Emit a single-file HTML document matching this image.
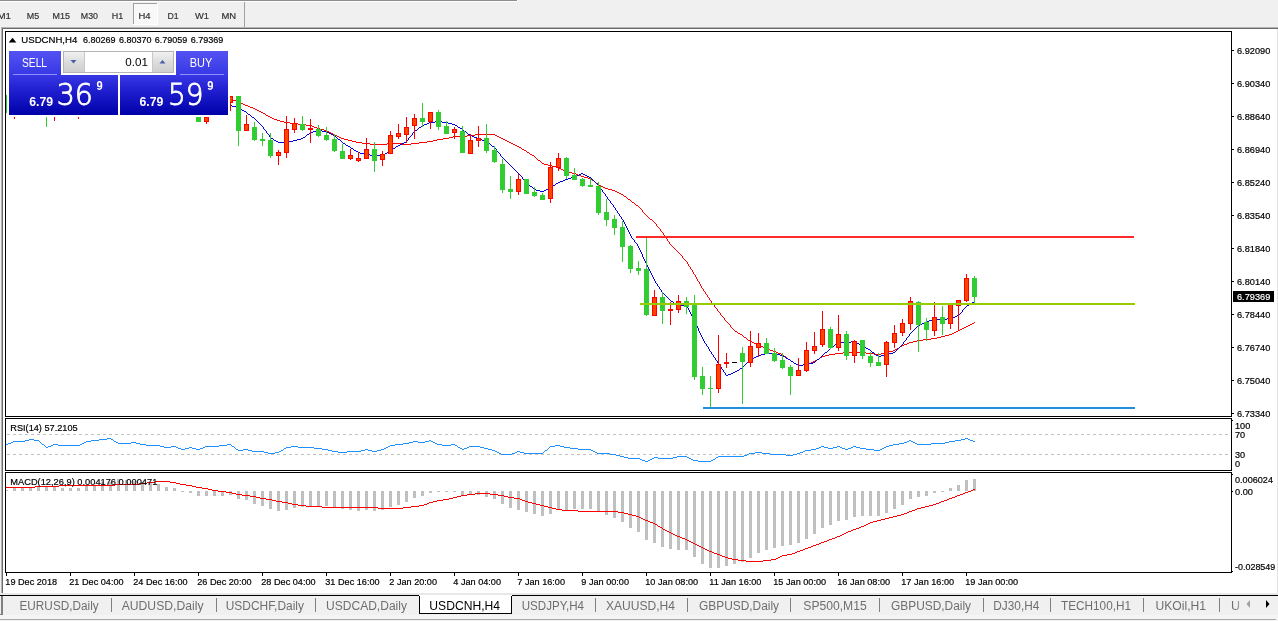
<!DOCTYPE html>
<html><head><meta charset="utf-8"><title>USDCNH,H4</title>
<style>html,body{margin:0;padding:0;background:#f0f0f0;overflow:hidden}svg{display:block;font-family:"Liberation Sans",sans-serif}</style>
</head><body>
<svg width="1278" height="621" viewBox="0 0 1278 621">
<rect x="0" y="0" width="1278" height="621" fill="#f0f0f0"/>
<rect x="0" y="0" width="517" height="1" fill="#8c8c8c"/>
<rect x="0" y="1" width="518" height="1" fill="#ffffff"/>
<rect x="517" y="0" width="1" height="2" fill="#ffffff"/>
<rect x="133" y="3" width="25" height="22" fill="#f8f8f8"/>
<rect x="133" y="3" width="25" height="1" fill="#a0a0a0"/>
<rect x="133" y="3" width="1" height="22" fill="#a0a0a0"/>
<rect x="133" y="24" width="25" height="1" fill="#ffffff"/>
<rect x="157" y="3" width="1" height="22" fill="#ffffff"/>
<text x="-2.5" y="19" font-size="9.6" fill="#333" textLength="13.5" lengthAdjust="spacingAndGlyphs" stroke="#333" stroke-width="0.2">M1</text>
<text x="26.8" y="19" font-size="9.6" fill="#333" textLength="12.4" lengthAdjust="spacingAndGlyphs" stroke="#333" stroke-width="0.2">M5</text>
<text x="52.6" y="19" font-size="9.6" fill="#333" textLength="17.4" lengthAdjust="spacingAndGlyphs" stroke="#333" stroke-width="0.2">M15</text>
<text x="80.8" y="19" font-size="9.6" fill="#333" textLength="17.2" lengthAdjust="spacingAndGlyphs" stroke="#333" stroke-width="0.2">M30</text>
<text x="111.7" y="19" font-size="9.6" fill="#333" textLength="11.5" lengthAdjust="spacingAndGlyphs" stroke="#333" stroke-width="0.2">H1</text>
<text x="138.5" y="19" font-size="9.6" fill="#333" textLength="12.1" lengthAdjust="spacingAndGlyphs" stroke="#333" stroke-width="0.2">H4</text>
<text x="167.5" y="19" font-size="9.6" fill="#333" textLength="11.2" lengthAdjust="spacingAndGlyphs" stroke="#333" stroke-width="0.2">D1</text>
<text x="195" y="19" font-size="9.6" fill="#333" textLength="14" lengthAdjust="spacingAndGlyphs" stroke="#333" stroke-width="0.2">W1</text>
<text x="221.5" y="19" font-size="9.6" fill="#333" textLength="14.7" lengthAdjust="spacingAndGlyphs" stroke="#333" stroke-width="0.2">MN</text>
<rect x="244" y="2" width="1" height="25" fill="#a0a0a0"/>
<rect x="1" y="27" width="1277" height="1" fill="#b4b4b4"/>
<rect x="1" y="28" width="1277" height="1" fill="#696969"/>
<rect x="1" y="27" width="1" height="566" fill="#b4b4b4"/>
<rect x="2" y="28" width="1" height="565" fill="#696969"/>
<rect x="3" y="29" width="1274" height="564" fill="#ffffff"/>
<rect x="1277" y="29" width="1" height="564" fill="#e3e3e3"/>
<rect x="0" y="593" width="1278" height="2" fill="#e8e8e8"/>
<rect x="5" y="31" width="1227" height="1" fill="#000000"/>
<rect x="5" y="416" width="1227" height="1" fill="#000000"/>
<rect x="5" y="31" width="1" height="386" fill="#000000"/>
<rect x="1231" y="31" width="1" height="386" fill="#000000"/>
<rect x="5" y="418" width="1227" height="1" fill="#000000"/>
<rect x="5" y="470" width="1227" height="1" fill="#000000"/>
<rect x="5" y="418" width="1" height="53" fill="#000000"/>
<rect x="1231" y="418" width="1" height="53" fill="#000000"/>
<rect x="5" y="472" width="1227" height="1" fill="#000000"/>
<rect x="5" y="572" width="1227" height="1" fill="#000000"/>
<rect x="5" y="472" width="1" height="101" fill="#000000"/>
<rect x="1231" y="472" width="1" height="101" fill="#000000"/>
<path d="M344 139h4v1h-4zM437 139h6v1h-6zM503 139h2v1h-2zM356 142h6v1h-6zM419 142h8v1h-8zM509 142h2v1h-2zM931 338h6v1h-6zM335 135h2v1h-2zM467 135h8v1h-8zM495 135h2v1h-2zM576 174h2v1h-2zM781 354h2v1h-2zM829 354h6v1h-6zM874 354h7v1h-7zM954 332h2v1h-2zM768 349h2v1h-2zM895 349h2v1h-2zM232 100h4v1h-4zM266 115h2v1h-2zM923 339h8v1h-8zM605 188h3v1h-3zM348 140h4v1h-4zM433 140h4v1h-4zM505 140h2v1h-2zM548 165h4v1h-4zM248 106h2v1h-2zM770 350h3v1h-3zM893 350h2v1h-2zM519 147h2v1h-2zM601 186h2v1h-2zM280 121h4v1h-4zM362 143h8v1h-8zM387 143h15v1h-15zM411 143h8v1h-8zM511 143h2v1h-2zM773 351h3v1h-3zM889 351h4v1h-4zM584 177h4v1h-4zM624 196h2v1h-2zM352 141h4v1h-4zM427 141h6v1h-6zM507 141h2v1h-2zM542 163h2v1h-2zM778 353h3v1h-3zM835 353h8v1h-8zM866 353h8v1h-8zM881 353h4v1h-4zM333 134h2v1h-2zM475 134h20v1h-20zM243 104h2v1h-2zM608 189h4v1h-4zM515 145h2v1h-2zM794 363h2v1h-2zM808 363h3v1h-3zM757 344h2v1h-2zM904 344h3v1h-3zM306 125h6v1h-6zM544 164h4v1h-4zM538 160h2v1h-2zM578 175h3v1h-3zM776 352h2v1h-2zM843 352h23v1h-23zM885 352h4v1h-4zM621 194h2v1h-2zM612 190h3v1h-3zM277 120h3v1h-3zM261 112h2v1h-2zM740 334h2v1h-2zM949 334h3v1h-3zM581 176h3v1h-3zM239 102h2v1h-2zM255 109h2v1h-2zM738 333h2v1h-2zM952 333h2v1h-2zM370 144h17v1h-17zM402 144h9v1h-9zM513 144h2v1h-2zM337 136h2v1h-2zM453 136h14v1h-14zM497 136h2v1h-2zM617 192h2v1h-2zM636 205h2v1h-2zM257 110h2v1h-2zM748 340h2v1h-2zM917 340h6v1h-6zM341 138h3v1h-3zM443 138h6v1h-6zM501 138h2v1h-2zM259 111h2v1h-2zM339 137h2v1h-2zM449 137h4v1h-4zM499 137h2v1h-2zM250 107h3v1h-3zM970 324h2v1h-2zM796 364h2v1h-2zM803 364h5v1h-5zM945 335h4v1h-4zM284 122h6v1h-6zM761 346h2v1h-2zM900 346h2v1h-2zM314 127h3v1h-3zM253 108h2v1h-2zM966 326h2v1h-2zM290 123h8v1h-8zM552 166h4v1h-4zM245 105h3v1h-3zM765 348h3v1h-3zM897 348h2v1h-2zM298 124h8v1h-8zM588 178h3v1h-3zM825 355h4v1h-4zM556 167h3v1h-3zM798 365h5v1h-5zM811 362h2v1h-2zM962 328h2v1h-2zM958 330h2v1h-2zM317 128h3v1h-3zM568 172h4v1h-4zM530 154h2v1h-2zM650 219h2v1h-2zM941 336h4v1h-4zM815 360h2v1h-2zM754 343h3v1h-3zM907 343h2v1h-2zM532 155h2v1h-2zM563 170h2v1h-2zM329 132h2v1h-2zM565 171h3v1h-3zM559 168h2v1h-2zM331 133h2v1h-2zM763 347h2v1h-2zM324 130h3v1h-3zM968 325h2v1h-2zM744 337h2v1h-2zM937 337h4v1h-4zM788 359h2v1h-2zM817 359h2v1h-2zM327 131h2v1h-2zM759 345h2v1h-2zM902 345h2v1h-2zM750 341h2v1h-2zM913 341h4v1h-4zM972 323h2v1h-2zM268 116h2v1h-2zM230 99h2v1h-2zM752 342h2v1h-2zM909 342h4v1h-4zM603 187h2v1h-2zM596 183h2v1h-2zM524 150h2v1h-2zM572 173h4v1h-4zM599 185h2v1h-2zM241 103h2v1h-2zM272 118h2v1h-2zM964 327h2v1h-2zM615 191h2v1h-2zM522 149h2v1h-2zM274 119h3v1h-3zM236 101h3v1h-3zM517 146h2v1h-2zM619 193h2v1h-2zM784 356h2v1h-2zM822 356h3v1h-3zM270 117h2v1h-2zM263 113h2v1h-2zM960 329h2v1h-2zM312 126h2v1h-2zM592 180h2v1h-2zM735 331h2v1h-2zM956 331h2v1h-2zM632 202h2v1h-2zM561 169h2v1h-2zM820 357h2v1h-2zM791 361h2v1h-2zM813 361h2v1h-2zM320 129h4v1h-4zM628 199h2v1h-2zM527 152h2v1h-2zM714 305h1v2h-1zM630 200h1v1h-1zM647 216h1v1h-1zM746 338h1v1h-1zM728 323h1v1h-1zM657 226h1v1h-1zM641 209h1v1h-1zM666 238h1v1h-1zM631 201h1v1h-1zM747 339h1v1h-1zM642 210h1v2h-1zM529 153h1v1h-1zM690 267h1v2h-1zM535 157h1v1h-1zM638 206h1v1h-1zM729 324h1v1h-1zM658 227h1v1h-1zM687 262h1v2h-1zM695 275h1v2h-1zM667 239h1v2h-1zM730 325h1v2h-1zM594 181h1v1h-1zM724 318h1v2h-1zM688 264h1v2h-1zM700 284h1v2h-1zM974 322h1v1h-1zM682 256h1v2h-1zM703 289h1v2h-1zM691 269h1v1h-1zM726 321h1v1h-1zM711 301h1v2h-1zM720 313h1v2h-1zM639 207h1v1h-1zM595 182h1v1h-1zM696 277h1v2h-1zM721 315h1v1h-1zM673 247h1v1h-1zM660 229h1v2h-1zM709 298h1v2h-1zM727 322h1v1h-1zM712 303h1v1h-1zM737 332h1v1h-1zM669 242h1v2h-1zM656 224h1v2h-1zM684 259h1v1h-1zM713 304h1v1h-1zM722 316h1v1h-1zM634 203h1v1h-1zM665 236h1v2h-1zM701 286h1v2h-1zM674 248h1v1h-1zM697 279h1v2h-1zM670 244h1v1h-1zM702 288h1v1h-1zM705 292h1v2h-1zM671 245h1v1h-1zM686 261h1v1h-1zM521 148h1v1h-1zM694 274h1v1h-1zM540 161h1v1h-1zM786 357h1v1h-1zM698 281h1v1h-1zM659 228h1v1h-1zM653 221h1v1h-1zM623 195h1v1h-1zM699 282h1v2h-1zM707 295h1v2h-1zM787 358h1v1h-1zM626 197h1v1h-1zM742 335h1v1h-1zM719 312h1v1h-1zM654 222h1v1h-1zM683 258h1v1h-1zM663 233h1v2h-1zM692 270h1v2h-1zM672 246h1v1h-1zM678 252h1v1h-1zM627 198h1v1h-1zM743 336h1v1h-1zM648 217h1v1h-1zM644 213h1v1h-1zM685 260h1v1h-1zM526 151h1v1h-1zM679 253h1v1h-1zM819 358h1v1h-1zM723 317h1v1h-1zM635 204h1v1h-1zM717 309h1v2h-1zM591 179h1v1h-1zM645 214h1v1h-1zM652 220h1v1h-1zM675 249h1v1h-1zM899 347h1v1h-1zM693 272h1v2h-1zM689 266h1v1h-1zM732 328h1v1h-1zM718 311h1v1h-1zM598 184h1v1h-1zM676 250h1v1h-1zM661 231h1v1h-1zM706 294h1v1h-1zM733 329h1v1h-1zM541 162h1v1h-1zM646 215h1v1h-1zM793 362h1v1h-1zM710 300h1v1h-1zM265 114h1v1h-1zM677 251h1v1h-1zM655 223h1v1h-1zM664 235h1v1h-1zM643 212h1v1h-1zM734 330h1v1h-1zM715 307h1v1h-1zM668 241h1v1h-1zM536 158h1v1h-1zM716 308h1v1h-1zM649 218h1v1h-1zM725 320h1v1h-1zM704 291h1v1h-1zM731 327h1v1h-1zM680 254h1v1h-1zM790 360h1v1h-1zM537 159h1v1h-1zM783 355h1v1h-1zM708 297h1v1h-1zM640 208h1v1h-1zM681 255h1v1h-1zM662 232h1v1h-1zM534 156h1v1h-1z" fill="#ff0000" shape-rendering="crispEdges"/>
<path d="M313 131h4v1h-4zM322 131h5v1h-5zM464 131h2v1h-2zM422 125h2v1h-2zM455 125h2v1h-2zM678 305h9v1h-9zM967 305h2v1h-2zM364 154h6v1h-6zM383 154h2v1h-2zM851 341h4v1h-4zM756 356h2v1h-2zM783 356h2v1h-2zM878 356h3v1h-3zM825 352h2v1h-2zM872 352h2v1h-2zM893 352h2v1h-2zM750 359h2v1h-2zM788 359h2v1h-2zM817 359h2v1h-2zM317 130h5v1h-5zM415 130h2v1h-2zM737 370h2v1h-2zM297 139h4v1h-4zM338 139h2v1h-2zM480 139h2v1h-2zM370 155h13v1h-13zM674 303h2v1h-2zM831 347h2v1h-2zM952 317h3v1h-3zM798 365h5v1h-5zM560 181h3v1h-3zM761 354h4v1h-4zM776 354h4v1h-4zM885 354h4v1h-4zM303 137h2v1h-2zM474 137h3v1h-3zM424 124h3v1h-3zM452 124h3v1h-3zM558 182h2v1h-2zM868 349h2v1h-2zM553 185h2v1h-2zM794 363h2v1h-2zM809 363h4v1h-4zM472 136h2v1h-2zM536 190h4v1h-4zM544 190h2v1h-2zM346 145h2v1h-2zM398 145h2v1h-2zM924 322h2v1h-2zM796 364h2v1h-2zM803 364h6v1h-6zM307 134h2v1h-2zM331 134h2v1h-2zM468 134h2v1h-2zM863 346h2v1h-2zM758 355h3v1h-3zM780 355h3v1h-3zM876 355h2v1h-2zM881 355h4v1h-4zM360 153h4v1h-4zM385 153h2v1h-2zM728 374h3v1h-3zM920 324h2v1h-2zM752 358h2v1h-2zM786 358h2v1h-2zM929 320h4v1h-4zM947 318h5v1h-5zM271 138h2v1h-2zM301 138h2v1h-2zM477 138h3v1h-3zM356 151h2v1h-2zM388 151h2v1h-2zM568 178h3v1h-3zM278 142h11v1h-11zM404 142h2v1h-2zM310 132h3v1h-3zM327 132h2v1h-2zM579 174h2v1h-2zM583 174h2v1h-2zM419 127h2v1h-2zM458 127h2v1h-2zM866 348h2v1h-2zM835 344h2v1h-2zM859 344h2v1h-2zM429 122h6v1h-6zM442 122h6v1h-6zM573 176h3v1h-3zM587 176h2v1h-2zM274 140h2v1h-2zM293 140h4v1h-4zM482 140h3v1h-3zM857 343h2v1h-2zM358 152h2v1h-2zM548 188h2v1h-2zM534 189h2v1h-2zM546 189h2v1h-2zM276 141h2v1h-2zM289 141h4v1h-4zM485 141h2v1h-2zM933 319h14v1h-14zM838 342h13v1h-13zM855 342h2v1h-2zM333 135h2v1h-2zM470 135h2v1h-2zM351 148h2v1h-2zM393 148h2v1h-2zM765 353h11v1h-11zM889 353h4v1h-4zM354 150h2v1h-2zM348 146h2v1h-2zM396 146h2v1h-2zM492 146h2v1h-2zM435 121h7v1h-7zM563 180h2v1h-2zM427 123h2v1h-2zM448 123h4v1h-4zM676 304h2v1h-2zM969 304h2v1h-2zM329 133h2v1h-2zM735 371h2v1h-2zM926 321h3v1h-3zM813 362h2v1h-2zM540 191h4v1h-4zM230 105h2v1h-2zM861 345h2v1h-2zM955 316h2v1h-2zM754 357h2v1h-2zM400 144h2v1h-2zM530 186h2v1h-2zM551 186h2v1h-2zM571 177h2v1h-2zM589 177h2v1h-2zM581 173h2v1h-2zM922 323h2v1h-2zM242 110h2v1h-2zM740 368h2v1h-2zM232 106h4v1h-4zM731 373h2v1h-2zM565 179h3v1h-3zM918 325h2v1h-2zM576 175h3v1h-3zM585 175h2v1h-2zM343 143h2v1h-2zM402 143h2v1h-2zM488 143h2v1h-2zM671 301h2v1h-2zM957 315h2v1h-2zM791 361h2v1h-2zM556 183h2v1h-2zM236 107h3v1h-3zM252 117h2v1h-2zM460 128h2v1h-2zM733 372h2v1h-2zM248 114h2v1h-2zM391 149h2v1h-2zM972 302h2v1h-2zM244 111h2v1h-2zM239 108h2v1h-2zM726 375h2v1h-2zM255 119h1v1h-1zM871 351h1v1h-1zM624 222h1v2h-1zM704 341h1v2h-1zM715 358h1v2h-1zM639 248h1v2h-1zM617 211h1v2h-1zM687 306h1v2h-1zM660 289h1v1h-1zM620 216h1v1h-1zM971 303h1v1h-1zM708 347h1v2h-1zM716 360h1v1h-1zM649 269h1v2h-1zM719 364h1v2h-1zM621 217h1v2h-1zM701 335h1v2h-1zM262 126h1v1h-1zM650 271h1v2h-1zM594 181h1v1h-1zM829 349h1v1h-1zM595 182h1v1h-1zM646 263h1v2h-1zM463 130h1v1h-1zM410 136h1v1h-1zM745 364h1v1h-1zM689 310h1v2h-1zM833 346h1v1h-1zM897 349h1v1h-1zM638 246h1v2h-1zM822 355h1v1h-1zM641 252h1v2h-1zM602 190h1v2h-1zM634 240h1v2h-1zM910 333h1v1h-1zM700 333h1v2h-1zM606 196h1v1h-1zM711 352h1v2h-1zM627 228h1v2h-1zM337 138h1v1h-1zM648 267h1v2h-1zM266 131h1v2h-1zM250 115h1v1h-1zM251 116h1v1h-1zM500 154h1v2h-1zM837 343h1v1h-1zM501 156h1v1h-1zM605 194h1v2h-1zM533 188h1v1h-1zM387 152h1v1h-1zM273 139h1v1h-1zM959 314h1v1h-1zM917 326h1v1h-1zM710 351h1v1h-1zM507 162h1v1h-1zM659 287h1v2h-1zM749 360h1v1h-1zM508 163h1v1h-1zM652 275h1v2h-1zM663 293h1v1h-1zM623 220h1v2h-1zM265 130h1v1h-1zM645 261h1v2h-1zM413 132h1v1h-1zM793 362h1v1h-1zM515 170h1v1h-1zM499 153h1v1h-1zM670 300h1v1h-1zM962 310h1v2h-1zM417 129h1v1h-1zM604 193h1v1h-1zM522 177h1v2h-1zM901 345h1v1h-1zM904 341h1v1h-1zM608 199h1v1h-1zM714 357h1v1h-1zM246 112h1v1h-1zM637 244h1v2h-1zM717 361h1v2h-1zM306 135h1v1h-1zM264 129h1v1h-1zM622 219h1v1h-1zM718 363h1v1h-1zM528 184h1v1h-1zM651 273h1v2h-1zM824 353h1v1h-1zM699 331h1v2h-1zM790 360h1v1h-1zM529 185h1v1h-1zM513 168h1v1h-1zM828 350h1v1h-1zM912 331h1v1h-1zM644 259h1v2h-1zM514 169h1v1h-1zM744 365h1v1h-1zM696 324h1v2h-1zM487 142h1v1h-1zM907 337h1v1h-1zM688 308h1v2h-1zM257 121h1v1h-1zM521 176h1v1h-1zM974 301h1v1h-1zM713 355h1v2h-1zM721 367h1v2h-1zM966 306h1v1h-1zM698 328h1v3h-1zM412 133h1v2h-1zM647 265h1v2h-1zM747 362h1v1h-1zM896 350h1v1h-1zM268 134h1v1h-1zM407 140h1v1h-1zM596 183h1v1h-1zM815 361h1v1h-1zM785 357h1v1h-1zM502 157h1v1h-1zM597 184h1v1h-1zM607 197h1v2h-1zM611 203h1v1h-1zM720 366h1v1h-1zM263 127h1v2h-1zM665 295h1v1h-1zM267 133h1v1h-1zM903 342h1v2h-1zM961 312h1v1h-1zM695 322h1v2h-1zM395 147h1v1h-1zM742 367h1v1h-1zM819 358h1v1h-1zM523 179h1v1h-1zM610 201h1v2h-1zM524 180h1v1h-1zM457 126h1v1h-1zM509 164h1v1h-1zM964 308h1v1h-1zM643 257h1v2h-1zM494 147h1v1h-1zM694 320h1v2h-1zM516 171h1v1h-1zM599 186h1v2h-1zM353 149h1v1h-1zM550 187h1v1h-1zM632 238h1v1h-1zM914 329h1v1h-1zM723 370h1v2h-1zM664 294h1v1h-1zM746 363h1v1h-1zM335 136h1v1h-1zM697 326h1v2h-1zM906 338h1v2h-1zM269 135h1v2h-1zM909 334h1v2h-1zM270 137h1v1h-1zM642 254h1v3h-1zM421 126h1v1h-1zM830 348h1v1h-1zM609 200h1v1h-1zM247 113h1v1h-1zM258 122h1v1h-1zM411 135h1v1h-1zM628 230h1v2h-1zM657 284h1v2h-1zM898 348h1v1h-1zM259 123h1v1h-1zM613 205h1v2h-1zM591 178h1v1h-1zM722 369h1v1h-1zM345 144h1v1h-1zM653 277h1v2h-1zM406 141h1v1h-1zM821 356h1v1h-1zM598 185h1v1h-1zM631 236h1v2h-1zM693 318h1v2h-1zM690 312h1v2h-1zM504 159h1v1h-1zM725 373h1v2h-1zM466 132h1v1h-1zM874 353h1v1h-1zM467 133h1v1h-1zM963 309h1v1h-1zM875 354h1v1h-1zM409 137h1v1h-1zM511 166h1v1h-1zM503 158h1v1h-1zM390 150h1v1h-1zM916 327h1v1h-1zM667 297h1v1h-1zM340 140h1v1h-1zM630 234h1v2h-1zM341 141h1v1h-1zM612 204h1v1h-1zM615 208h1v2h-1zM703 339h1v2h-1zM724 372h1v1h-1zM525 181h1v1h-1zM656 283h1v1h-1zM616 210h1v1h-1zM905 340h1v1h-1zM666 296h1v1h-1zM526 182h1v1h-1zM496 149h1v2h-1zM900 346h1v1h-1zM692 316h1v2h-1zM462 129h1v1h-1zM870 350h1v1h-1zM254 118h1v1h-1zM748 361h1v1h-1zM913 330h1v1h-1zM629 232h1v2h-1zM655 281h1v2h-1zM518 173h1v1h-1zM601 189h1v1h-1zM619 214h1v2h-1zM260 124h1v1h-1zM707 346h1v1h-1zM908 336h1v1h-1zM510 165h1v1h-1zM261 125h1v1h-1zM336 137h1v1h-1zM495 148h1v1h-1zM517 172h1v1h-1zM600 188h1v1h-1zM691 314h1v2h-1zM640 250h1v2h-1zM305 136h1v1h-1zM532 187h1v1h-1zM633 239h1v1h-1zM408 138h1v2h-1zM654 279h1v2h-1zM816 360h1v1h-1zM673 302h1v1h-1zM626 226h1v2h-1zM706 344h1v2h-1zM895 351h1v1h-1zM506 161h1v1h-1zM658 286h1v1h-1zM865 347h1v1h-1zM820 357h1v1h-1zM739 369h1v1h-1zM911 332h1v1h-1zM592 179h1v1h-1zM743 366h1v1h-1zM593 180h1v1h-1zM350 147h1v1h-1zM309 133h1v1h-1zM834 345h1v1h-1zM823 354h1v1h-1zM603 192h1v1h-1zM709 349h1v2h-1zM490 144h1v1h-1zM614 207h1v1h-1zM827 351h1v1h-1zM661 290h1v2h-1zM702 337h1v2h-1zM625 224h1v2h-1zM491 145h1v1h-1zM705 343h1v1h-1zM662 292h1v1h-1zM618 213h1v1h-1zM555 184h1v1h-1zM899 347h1v1h-1zM241 109h1v1h-1zM498 152h1v1h-1zM669 299h1v1h-1zM965 307h1v1h-1zM414 131h1v1h-1zM505 160h1v1h-1zM960 313h1v1h-1zM636 243h1v1h-1zM256 120h1v1h-1zM520 175h1v1h-1zM527 183h1v1h-1zM712 354h1v1h-1zM902 344h1v1h-1zM512 167h1v1h-1zM915 328h1v1h-1zM497 151h1v1h-1zM668 298h1v1h-1zM342 142h1v1h-1zM519 174h1v1h-1zM418 128h1v1h-1zM635 242h1v1h-1z" fill="#0000e0" shape-rendering="crispEdges"/>
<g id="chart" shape-rendering="crispEdges">
<rect x="6" y="95" width="1" height="18" fill="#32cd32"/>
<rect x="6" y="95" width="3" height="18" fill="#32cd32"/>
<rect x="14" y="117" width="1" height="2" fill="#ff0000"/>
<rect x="46" y="117" width="1" height="10" fill="#32cd32"/>
<rect x="54" y="117" width="1" height="4" fill="#ff0000"/>
<rect x="78" y="117" width="1" height="2" fill="#ff0000"/>
<rect x="198" y="117" width="1" height="5" fill="#32cd32"/>
<rect x="196" y="117" width="5" height="5" fill="#32cd32"/>
<rect x="206" y="117" width="1" height="7" fill="#ff0000"/>
<rect x="204" y="117" width="5" height="5" fill="#ff0000"/>
<rect x="205" y="118" width="3" height="3" fill="#ff4500"/>
<rect x="230" y="96" width="1" height="15" fill="#ff0000"/>
<rect x="228" y="96" width="5" height="7" fill="#ff0000"/>
<rect x="229" y="97" width="3" height="5" fill="#ff4500"/>
<rect x="238" y="96" width="1" height="50" fill="#32cd32"/>
<rect x="236" y="96" width="5" height="35" fill="#32cd32"/>
<rect x="246" y="115" width="1" height="16" fill="#ff0000"/>
<rect x="244" y="124" width="5" height="7" fill="#ff0000"/>
<rect x="245" y="125" width="3" height="5" fill="#ff4500"/>
<rect x="254" y="122" width="1" height="19" fill="#32cd32"/>
<rect x="252" y="127" width="5" height="13" fill="#32cd32"/>
<rect x="262" y="133" width="1" height="13" fill="#32cd32"/>
<rect x="260" y="139" width="5" height="2" fill="#32cd32"/>
<rect x="270" y="133" width="1" height="25" fill="#32cd32"/>
<rect x="268" y="140" width="5" height="16" fill="#32cd32"/>
<rect x="278" y="150" width="1" height="15" fill="#ff0000"/>
<rect x="276" y="152" width="5" height="4" fill="#ff0000"/>
<rect x="277" y="153" width="3" height="2" fill="#ff4500"/>
<rect x="286" y="116" width="1" height="42" fill="#ff0000"/>
<rect x="284" y="129" width="5" height="24" fill="#ff0000"/>
<rect x="285" y="130" width="3" height="22" fill="#ff4500"/>
<rect x="294" y="118" width="1" height="15" fill="#ff0000"/>
<rect x="292" y="123" width="5" height="7" fill="#ff0000"/>
<rect x="293" y="124" width="3" height="5" fill="#ff4500"/>
<rect x="302" y="116" width="1" height="15" fill="#32cd32"/>
<rect x="300" y="124" width="5" height="6" fill="#32cd32"/>
<rect x="310" y="119" width="1" height="24" fill="#ff0000"/>
<rect x="308" y="128" width="5" height="2" fill="#ff0000"/>
<rect x="318" y="125" width="1" height="12" fill="#32cd32"/>
<rect x="316" y="129" width="5" height="7" fill="#32cd32"/>
<rect x="326" y="127" width="1" height="14" fill="#32cd32"/>
<rect x="324" y="135" width="5" height="5" fill="#32cd32"/>
<rect x="334" y="134" width="1" height="18" fill="#32cd32"/>
<rect x="332" y="139" width="5" height="12" fill="#32cd32"/>
<rect x="342" y="144" width="1" height="15" fill="#32cd32"/>
<rect x="340" y="151" width="5" height="8" fill="#32cd32"/>
<rect x="350" y="149" width="1" height="11" fill="#ff0000"/>
<rect x="348" y="155" width="5" height="4" fill="#ff0000"/>
<rect x="349" y="156" width="3" height="2" fill="#ff4500"/>
<rect x="358" y="152" width="1" height="10" fill="#ff0000"/>
<rect x="356" y="158" width="5" height="3" fill="#ff0000"/>
<rect x="357" y="159" width="3" height="1" fill="#ff4500"/>
<rect x="366" y="138" width="1" height="21" fill="#ff0000"/>
<rect x="364" y="149" width="5" height="10" fill="#ff0000"/>
<rect x="365" y="150" width="3" height="8" fill="#ff4500"/>
<rect x="374" y="142" width="1" height="30" fill="#32cd32"/>
<rect x="372" y="149" width="5" height="12" fill="#32cd32"/>
<rect x="382" y="151" width="1" height="15" fill="#ff0000"/>
<rect x="380" y="154" width="5" height="6" fill="#ff0000"/>
<rect x="381" y="155" width="3" height="4" fill="#ff4500"/>
<rect x="390" y="131" width="1" height="23" fill="#ff0000"/>
<rect x="388" y="135" width="5" height="19" fill="#ff0000"/>
<rect x="389" y="136" width="3" height="17" fill="#ff4500"/>
<rect x="398" y="124" width="1" height="15" fill="#ff0000"/>
<rect x="396" y="133" width="5" height="4" fill="#ff0000"/>
<rect x="397" y="134" width="3" height="2" fill="#ff4500"/>
<rect x="406" y="117" width="1" height="26" fill="#ff0000"/>
<rect x="404" y="127" width="5" height="8" fill="#ff0000"/>
<rect x="405" y="128" width="3" height="6" fill="#ff4500"/>
<rect x="414" y="114" width="1" height="25" fill="#ff0000"/>
<rect x="412" y="118" width="5" height="8" fill="#ff0000"/>
<rect x="413" y="119" width="3" height="6" fill="#ff4500"/>
<rect x="422" y="103" width="1" height="24" fill="#32cd32"/>
<rect x="420" y="118" width="5" height="4" fill="#32cd32"/>
<rect x="430" y="112" width="1" height="17" fill="#ff0000"/>
<rect x="428" y="112" width="5" height="10" fill="#ff0000"/>
<rect x="429" y="113" width="3" height="8" fill="#ff4500"/>
<rect x="438" y="110" width="1" height="20" fill="#32cd32"/>
<rect x="436" y="112" width="5" height="15" fill="#32cd32"/>
<rect x="446" y="121" width="1" height="13" fill="#32cd32"/>
<rect x="444" y="126" width="5" height="8" fill="#32cd32"/>
<rect x="454" y="127" width="1" height="12" fill="#ff0000"/>
<rect x="452" y="129" width="5" height="4" fill="#ff0000"/>
<rect x="453" y="130" width="3" height="2" fill="#ff4500"/>
<rect x="462" y="126" width="1" height="27" fill="#32cd32"/>
<rect x="460" y="131" width="5" height="22" fill="#32cd32"/>
<rect x="470" y="134" width="1" height="20" fill="#ff0000"/>
<rect x="468" y="140" width="5" height="14" fill="#ff0000"/>
<rect x="469" y="141" width="3" height="12" fill="#ff4500"/>
<rect x="478" y="126" width="1" height="21" fill="#ff0000"/>
<rect x="476" y="138" width="5" height="3" fill="#ff0000"/>
<rect x="477" y="139" width="3" height="1" fill="#ff4500"/>
<rect x="486" y="124" width="1" height="29" fill="#32cd32"/>
<rect x="484" y="138" width="5" height="13" fill="#32cd32"/>
<rect x="494" y="146" width="1" height="17" fill="#32cd32"/>
<rect x="492" y="150" width="5" height="12" fill="#32cd32"/>
<rect x="502" y="159" width="1" height="34" fill="#32cd32"/>
<rect x="500" y="164" width="5" height="26" fill="#32cd32"/>
<rect x="510" y="176" width="1" height="23" fill="#32cd32"/>
<rect x="508" y="189" width="5" height="3" fill="#32cd32"/>
<rect x="518" y="174" width="1" height="21" fill="#ff0000"/>
<rect x="516" y="179" width="5" height="13" fill="#ff0000"/>
<rect x="517" y="180" width="3" height="11" fill="#ff4500"/>
<rect x="526" y="179" width="1" height="15" fill="#32cd32"/>
<rect x="524" y="179" width="5" height="15" fill="#32cd32"/>
<rect x="534" y="187" width="1" height="10" fill="#32cd32"/>
<rect x="532" y="192" width="5" height="4" fill="#32cd32"/>
<rect x="542" y="193" width="1" height="7" fill="#32cd32"/>
<rect x="540" y="195" width="5" height="5" fill="#32cd32"/>
<rect x="550" y="162" width="1" height="41" fill="#ff0000"/>
<rect x="548" y="167" width="5" height="32" fill="#ff0000"/>
<rect x="549" y="168" width="3" height="30" fill="#ff4500"/>
<rect x="558" y="153" width="1" height="18" fill="#ff0000"/>
<rect x="556" y="158" width="5" height="10" fill="#ff0000"/>
<rect x="557" y="159" width="3" height="8" fill="#ff4500"/>
<rect x="566" y="157" width="1" height="22" fill="#32cd32"/>
<rect x="564" y="158" width="5" height="18" fill="#32cd32"/>
<rect x="574" y="168" width="1" height="12" fill="#32cd32"/>
<rect x="572" y="175" width="5" height="5" fill="#32cd32"/>
<rect x="582" y="178" width="1" height="9" fill="#32cd32"/>
<rect x="580" y="179" width="5" height="7" fill="#32cd32"/>
<rect x="590" y="178" width="1" height="9" fill="#32cd32"/>
<rect x="588" y="185" width="5" height="2" fill="#32cd32"/>
<rect x="598" y="182" width="1" height="33" fill="#32cd32"/>
<rect x="596" y="186" width="5" height="27" fill="#32cd32"/>
<rect x="606" y="199" width="1" height="27" fill="#32cd32"/>
<rect x="604" y="212" width="5" height="8" fill="#32cd32"/>
<rect x="614" y="215" width="1" height="20" fill="#32cd32"/>
<rect x="612" y="219" width="5" height="9" fill="#32cd32"/>
<rect x="622" y="221" width="1" height="41" fill="#32cd32"/>
<rect x="620" y="227" width="5" height="20" fill="#32cd32"/>
<rect x="630" y="245" width="1" height="28" fill="#32cd32"/>
<rect x="628" y="246" width="5" height="23" fill="#32cd32"/>
<rect x="638" y="261" width="1" height="14" fill="#32cd32"/>
<rect x="636" y="268" width="5" height="3" fill="#32cd32"/>
<rect x="646" y="238" width="1" height="78" fill="#32cd32"/>
<rect x="644" y="269" width="5" height="46" fill="#32cd32"/>
<rect x="654" y="290" width="1" height="26" fill="#ff0000"/>
<rect x="652" y="297" width="5" height="19" fill="#ff0000"/>
<rect x="653" y="298" width="3" height="17" fill="#ff4500"/>
<rect x="662" y="292" width="1" height="32" fill="#32cd32"/>
<rect x="660" y="297" width="5" height="14" fill="#32cd32"/>
<rect x="670" y="302" width="1" height="23" fill="#ff0000"/>
<rect x="668" y="309" width="5" height="2" fill="#ff0000"/>
<rect x="678" y="295" width="1" height="18" fill="#ff0000"/>
<rect x="676" y="301" width="5" height="9" fill="#ff0000"/>
<rect x="677" y="302" width="3" height="7" fill="#ff4500"/>
<rect x="686" y="297" width="1" height="17" fill="#32cd32"/>
<rect x="684" y="301" width="5" height="6" fill="#32cd32"/>
<rect x="694" y="295" width="1" height="85" fill="#32cd32"/>
<rect x="692" y="303" width="5" height="74" fill="#32cd32"/>
<rect x="702" y="367" width="1" height="28" fill="#32cd32"/>
<rect x="700" y="376" width="5" height="13" fill="#32cd32"/>
<rect x="710" y="376" width="1" height="31" fill="#32cd32"/>
<rect x="708" y="388" width="5" height="1" fill="#32cd32"/>
<rect x="718" y="335" width="1" height="58" fill="#ff0000"/>
<rect x="716" y="364" width="5" height="25" fill="#ff0000"/>
<rect x="717" y="365" width="3" height="23" fill="#ff4500"/>
<rect x="726" y="353" width="1" height="15" fill="#ff0000"/>
<rect x="724" y="362" width="5" height="2" fill="#ff0000"/>
<rect x="734" y="362" width="1" height="1" fill="#000000"/>
<rect x="732" y="362" width="5" height="1" fill="#000000"/>
<rect x="742" y="347" width="1" height="57" fill="#32cd32"/>
<rect x="740" y="353" width="5" height="9" fill="#32cd32"/>
<rect x="750" y="331" width="1" height="36" fill="#ff0000"/>
<rect x="748" y="346" width="5" height="17" fill="#ff0000"/>
<rect x="749" y="347" width="3" height="15" fill="#ff4500"/>
<rect x="758" y="333" width="1" height="24" fill="#ff0000"/>
<rect x="756" y="343" width="5" height="5" fill="#ff0000"/>
<rect x="757" y="344" width="3" height="3" fill="#ff4500"/>
<rect x="766" y="338" width="1" height="16" fill="#32cd32"/>
<rect x="764" y="343" width="5" height="11" fill="#32cd32"/>
<rect x="774" y="348" width="1" height="14" fill="#32cd32"/>
<rect x="772" y="353" width="5" height="8" fill="#32cd32"/>
<rect x="782" y="353" width="1" height="16" fill="#32cd32"/>
<rect x="780" y="360" width="5" height="8" fill="#32cd32"/>
<rect x="790" y="365" width="1" height="30" fill="#32cd32"/>
<rect x="788" y="367" width="5" height="9" fill="#32cd32"/>
<rect x="798" y="358" width="1" height="18" fill="#ff0000"/>
<rect x="796" y="370" width="5" height="6" fill="#ff0000"/>
<rect x="797" y="371" width="3" height="4" fill="#ff4500"/>
<rect x="806" y="342" width="1" height="30" fill="#ff0000"/>
<rect x="804" y="350" width="5" height="21" fill="#ff0000"/>
<rect x="805" y="351" width="3" height="19" fill="#ff4500"/>
<rect x="814" y="332" width="1" height="22" fill="#ff0000"/>
<rect x="812" y="346" width="5" height="5" fill="#ff0000"/>
<rect x="813" y="347" width="3" height="3" fill="#ff4500"/>
<rect x="822" y="311" width="1" height="36" fill="#ff0000"/>
<rect x="820" y="329" width="5" height="16" fill="#ff0000"/>
<rect x="821" y="330" width="3" height="14" fill="#ff4500"/>
<rect x="830" y="327" width="1" height="22" fill="#32cd32"/>
<rect x="828" y="329" width="5" height="19" fill="#32cd32"/>
<rect x="838" y="315" width="1" height="36" fill="#ff0000"/>
<rect x="836" y="334" width="5" height="14" fill="#ff0000"/>
<rect x="837" y="335" width="3" height="12" fill="#ff4500"/>
<rect x="846" y="331" width="1" height="29" fill="#32cd32"/>
<rect x="844" y="334" width="5" height="22" fill="#32cd32"/>
<rect x="854" y="340" width="1" height="23" fill="#ff0000"/>
<rect x="852" y="341" width="5" height="15" fill="#ff0000"/>
<rect x="853" y="342" width="3" height="13" fill="#ff4500"/>
<rect x="862" y="340" width="1" height="19" fill="#32cd32"/>
<rect x="860" y="340" width="5" height="16" fill="#32cd32"/>
<rect x="870" y="352" width="1" height="15" fill="#32cd32"/>
<rect x="868" y="356" width="5" height="7" fill="#32cd32"/>
<rect x="878" y="353" width="1" height="13" fill="#32cd32"/>
<rect x="876" y="362" width="5" height="4" fill="#32cd32"/>
<rect x="886" y="341" width="1" height="36" fill="#ff0000"/>
<rect x="884" y="342" width="5" height="23" fill="#ff0000"/>
<rect x="885" y="343" width="3" height="21" fill="#ff4500"/>
<rect x="894" y="325" width="1" height="23" fill="#ff0000"/>
<rect x="892" y="333" width="5" height="10" fill="#ff0000"/>
<rect x="893" y="334" width="3" height="8" fill="#ff4500"/>
<rect x="902" y="319" width="1" height="17" fill="#ff0000"/>
<rect x="900" y="323" width="5" height="10" fill="#ff0000"/>
<rect x="901" y="324" width="3" height="8" fill="#ff4500"/>
<rect x="910" y="297" width="1" height="33" fill="#ff0000"/>
<rect x="908" y="301" width="5" height="23" fill="#ff0000"/>
<rect x="909" y="302" width="3" height="21" fill="#ff4500"/>
<rect x="918" y="301" width="1" height="51" fill="#32cd32"/>
<rect x="916" y="302" width="5" height="23" fill="#32cd32"/>
<rect x="926" y="318" width="1" height="23" fill="#32cd32"/>
<rect x="924" y="322" width="5" height="8" fill="#32cd32"/>
<rect x="934" y="302" width="1" height="34" fill="#ff0000"/>
<rect x="932" y="317" width="5" height="14" fill="#ff0000"/>
<rect x="933" y="318" width="3" height="12" fill="#ff4500"/>
<rect x="942" y="306" width="1" height="29" fill="#32cd32"/>
<rect x="940" y="317" width="5" height="7" fill="#32cd32"/>
<rect x="950" y="303" width="1" height="26" fill="#ff0000"/>
<rect x="948" y="303" width="5" height="21" fill="#ff0000"/>
<rect x="949" y="304" width="3" height="19" fill="#ff4500"/>
<rect x="958" y="300" width="1" height="30" fill="#ff0000"/>
<rect x="956" y="300" width="5" height="6" fill="#ff0000"/>
<rect x="957" y="301" width="3" height="4" fill="#ff4500"/>
<rect x="966" y="274" width="1" height="28" fill="#ff0000"/>
<rect x="964" y="278" width="5" height="23" fill="#ff0000"/>
<rect x="965" y="279" width="3" height="21" fill="#ff4500"/>
<rect x="974" y="276" width="1" height="27" fill="#32cd32"/>
<rect x="972" y="278" width="5" height="19" fill="#32cd32"/>
<rect x="636" y="236" width="498" height="2" fill="#ff2a2a"/>
<rect x="640" y="303" width="495" height="2" fill="#99cc00"/>
<rect x="703" y="407" width="432" height="2" fill="#1e8fd8"/>
</g>
<rect x="1232" y="50" width="2" height="1" fill="#000000"/>
<text x="1237" y="53.7" font-size="9.6" fill="#000" textLength="33.3" lengthAdjust="spacingAndGlyphs" stroke="#000" stroke-width="0.2">6.92090</text>
<rect x="1232" y="83" width="2" height="1" fill="#000000"/>
<text x="1237" y="86.7" font-size="9.6" fill="#000" textLength="33.3" lengthAdjust="spacingAndGlyphs" stroke="#000" stroke-width="0.2">6.90340</text>
<rect x="1232" y="116" width="2" height="1" fill="#000000"/>
<text x="1237" y="119.7" font-size="9.6" fill="#000" textLength="33.3" lengthAdjust="spacingAndGlyphs" stroke="#000" stroke-width="0.2">6.88640</text>
<rect x="1232" y="149" width="2" height="1" fill="#000000"/>
<text x="1237" y="152.7" font-size="9.6" fill="#000" textLength="33.3" lengthAdjust="spacingAndGlyphs" stroke="#000" stroke-width="0.2">6.86940</text>
<rect x="1232" y="182" width="2" height="1" fill="#000000"/>
<text x="1237" y="185.7" font-size="9.6" fill="#000" textLength="33.3" lengthAdjust="spacingAndGlyphs" stroke="#000" stroke-width="0.2">6.85240</text>
<rect x="1232" y="215" width="2" height="1" fill="#000000"/>
<text x="1237" y="218.7" font-size="9.6" fill="#000" textLength="33.3" lengthAdjust="spacingAndGlyphs" stroke="#000" stroke-width="0.2">6.83540</text>
<rect x="1232" y="248" width="2" height="1" fill="#000000"/>
<text x="1237" y="251.7" font-size="9.6" fill="#000" textLength="33.3" lengthAdjust="spacingAndGlyphs" stroke="#000" stroke-width="0.2">6.81840</text>
<rect x="1232" y="281" width="2" height="1" fill="#000000"/>
<text x="1237" y="284.7" font-size="9.6" fill="#000" textLength="33.3" lengthAdjust="spacingAndGlyphs" stroke="#000" stroke-width="0.2">6.80140</text>
<rect x="1232" y="314" width="2" height="1" fill="#000000"/>
<text x="1237" y="317.7" font-size="9.6" fill="#000" textLength="33.3" lengthAdjust="spacingAndGlyphs" stroke="#000" stroke-width="0.2">6.78440</text>
<rect x="1232" y="347" width="2" height="1" fill="#000000"/>
<text x="1237" y="350.7" font-size="9.6" fill="#000" textLength="33.3" lengthAdjust="spacingAndGlyphs" stroke="#000" stroke-width="0.2">6.76740</text>
<rect x="1232" y="380" width="2" height="1" fill="#000000"/>
<text x="1237" y="383.7" font-size="9.6" fill="#000" textLength="33.3" lengthAdjust="spacingAndGlyphs" stroke="#000" stroke-width="0.2">6.75040</text>
<rect x="1232" y="413" width="2" height="1" fill="#000000"/>
<text x="1237" y="416.7" font-size="9.6" fill="#000" textLength="33.3" lengthAdjust="spacingAndGlyphs" stroke="#000" stroke-width="0.2">6.73340</text>
<rect x="1233" y="291" width="41" height="11" fill="#000000"/>
<text x="1237" y="300" font-size="9.6" fill="#fff" textLength="33.3" lengthAdjust="spacingAndGlyphs" stroke="#fff" stroke-width="0.2">6.79369</text>
<path d="M8.7 42.4 L16.3 42.4 L12.5 37.8 Z" fill="#000"/>
<text x="21.3" y="43" font-size="9.6" fill="#000" textLength="56" lengthAdjust="spacingAndGlyphs" stroke="#000" stroke-width="0.2">USDCNH,H4</text>
<text x="83.0" y="43" font-size="9.6" fill="#000" textLength="32.6" lengthAdjust="spacingAndGlyphs" stroke="#000" stroke-width="0.2">6.80269</text>
<text x="118.9" y="43" font-size="9.6" fill="#000" textLength="32.6" lengthAdjust="spacingAndGlyphs" stroke="#000" stroke-width="0.2">6.80370</text>
<text x="154.8" y="43" font-size="9.6" fill="#000" textLength="32.6" lengthAdjust="spacingAndGlyphs" stroke="#000" stroke-width="0.2">6.79059</text>
<text x="190.7" y="43" font-size="9.6" fill="#000" textLength="32.6" lengthAdjust="spacingAndGlyphs" stroke="#000" stroke-width="0.2">6.79369</text>
<defs><linearGradient id="gb" x1="0" y1="0" x2="0" y2="1"><stop offset="0" stop-color="#5252f2"/><stop offset="0.35" stop-color="#3a3ae6"/><stop offset="0.62" stop-color="#1f1fd0"/><stop offset="1" stop-color="#0000a8"/></linearGradient><linearGradient id="gs" x1="0" y1="0" x2="0" y2="1"><stop offset="0" stop-color="#f2f2f2"/><stop offset="0.5" stop-color="#dcdcdc"/><stop offset="1" stop-color="#cfcfcf"/></linearGradient></defs>
<rect x="7" y="49" width="223" height="68" fill="#ffffff"/>
<path d="M9 51H61V75H118V115H9Z" fill="url(#gb)"/>
<path d="M176 51H228V115H120V75H176Z" fill="url(#gb)"/>
<rect x="13" y="74" width="44" height="1" fill="#8f8ffa"/>
<rect x="180" y="74" width="44" height="1" fill="#8f8ffa"/>
<text x="34.5" y="67" font-size="12" fill="#fff" textLength="25" lengthAdjust="spacingAndGlyphs" text-anchor="middle">SELL</text>
<text x="201" y="67" font-size="12" fill="#fff" textLength="22.5" lengthAdjust="spacingAndGlyphs" text-anchor="middle">BUY</text>
<rect x="63" y="51" width="111" height="22" fill="#b4b4b4"/>
<rect x="64" y="52" width="109" height="20" fill="#ffffff"/>
<rect x="64" y="52" width="20" height="20" fill="url(#gs)"/>
<rect x="84" y="52" width="1" height="20" fill="#c8c8c8"/>
<rect x="153" y="52" width="20" height="20" fill="url(#gs)"/>
<rect x="152" y="52" width="1" height="20" fill="#c8c8c8"/>
<path d="M70.5 60 L76.5 60 L73.5 63.5 Z" fill="#4a5ea8"/>
<path d="M159.5 63.5 L165.5 63.5 L162.5 60 Z" fill="#4a5ea8"/>
<text x="148" y="66" font-size="11.5" fill="#000" textLength="22.7" lengthAdjust="spacingAndGlyphs" text-anchor="end">0.01</text>
<text x="29.2" y="106" font-size="12.8" fill="#fff" textLength="23.8" lengthAdjust="spacingAndGlyphs" font-weight="bold">6.79</text>
<text x="56.7" y="105.3" font-size="31" fill="#fff" textLength="36.3" lengthAdjust="spacingAndGlyphs" font-weight="200" font-family="DejaVu Sans" stroke="#fff" stroke-width="0.9">36</text>
<text x="96.4" y="90" font-size="12.8" fill="#fff" textLength="6.2" lengthAdjust="spacingAndGlyphs" font-weight="bold">9</text>
<text x="139.5" y="106" font-size="12.8" fill="#fff" textLength="23.8" lengthAdjust="spacingAndGlyphs" font-weight="bold">6.79</text>
<text x="168" y="105.3" font-size="31" fill="#fff" textLength="35.5" lengthAdjust="spacingAndGlyphs" font-weight="200" font-family="DejaVu Sans" stroke="#fff" stroke-width="0.9">59</text>
<text x="207.2" y="90" font-size="12.8" fill="#fff" textLength="6.2" lengthAdjust="spacingAndGlyphs" font-weight="bold">9</text>
<g shape-rendering="crispEdges">
<line x1="7" y1="434.5" x2="1231" y2="434.5" stroke="#c0c0c0" stroke-width="1" stroke-dasharray="3 3"/>
<line x1="7" y1="454.5" x2="1231" y2="454.5" stroke="#c0c0c0" stroke-width="1" stroke-dasharray="3 3"/>
</g>
<text x="10.3" y="431" font-size="9.6" fill="#000" textLength="67.3" lengthAdjust="spacingAndGlyphs" stroke="#000" stroke-width="0.2">RSI(14) 57.2105</text>
<text x="1235" y="428.8" font-size="9.6" fill="#000" textLength="15.2" lengthAdjust="spacingAndGlyphs" stroke="#000" stroke-width="0.2">100</text>
<text x="1235" y="438" font-size="9.6" fill="#000" textLength="10.2" lengthAdjust="spacingAndGlyphs" stroke="#000" stroke-width="0.2">70</text>
<text x="1235" y="457.5" font-size="9.6" fill="#000" textLength="10.2" lengthAdjust="spacingAndGlyphs" stroke="#000" stroke-width="0.2">30</text>
<text x="1235" y="466.5" font-size="9.6" fill="#000" textLength="5.1" lengthAdjust="spacingAndGlyphs" stroke="#000" stroke-width="0.2">0</text>
<path d="M178 448h3v1h-3zM185 448h4v1h-4zM192 448h4v1h-4zM200 448h3v1h-3zM284 448h2v1h-2zM314 448h8v1h-8zM384 448h2v1h-2zM460 448h2v1h-2zM464 448h3v1h-3zM484 448h4v1h-4zM570 448h8v1h-8zM816 448h3v1h-3zM828 448h5v1h-5zM842 448h3v1h-3zM848 448h3v1h-3zM860 448h6v1h-6zM882 448h2v1h-2zM624 457h4v1h-4zM654 457h4v1h-4zM673 457h4v1h-4zM687 457h2v1h-2zM716 457h2v1h-2zM51 445h2v1h-2zM58 445h22v1h-22zM146 445h14v1h-14zM219 445h8v1h-8zM390 445h5v1h-5zM442 445h9v1h-9zM455 445h2v1h-2zM555 445h5v1h-5zM889 445h4v1h-4zM46 447h2v1h-2zM164 447h7v1h-7zM176 447h2v1h-2zM189 447h3v1h-3zM203 447h2v1h-2zM286 447h5v1h-5zM298 447h16v1h-16zM386 447h2v1h-2zM458 447h2v1h-2zM467 447h2v1h-2zM480 447h4v1h-4zM564 447h6v1h-6zM819 447h2v1h-2zM824 447h4v1h-4zM833 447h4v1h-4zM840 447h2v1h-2zM851 447h2v1h-2zM856 447h4v1h-4zM884 447h2v1h-2zM252 451h12v1h-12zM279 451h2v1h-2zM332 451h6v1h-6zM347 451h14v1h-14zM372 451h5v1h-5zM495 451h2v1h-2zM517 451h3v1h-3zM593 451h2v1h-2zM803 451h2v1h-2zM13 441h12v1h-12zM86 441h5v1h-5zM114 441h2v1h-2zM413 441h5v1h-5zM425 441h4v1h-4zM431 441h2v1h-2zM907 441h2v1h-2zM911 441h2v1h-2zM949 441h6v1h-6zM973 441h2v1h-2zM268 453h7v1h-7zM499 453h2v1h-2zM512 453h3v1h-3zM524 453h19v1h-19zM597 453h13v1h-13zM749 453h6v1h-6zM762 453h8v1h-8zM797 453h3v1h-3zM6 444h2v1h-2zM42 444h2v1h-2zM53 444h5v1h-5zM80 444h2v1h-2zM140 444h6v1h-6zM227 444h4v1h-4zM395 444h8v1h-8zM437 444h5v1h-5zM451 444h4v1h-4zM893 444h6v1h-6zM917 444h14v1h-14zM620 456h4v1h-4zM677 456h10v1h-10zM718 456h26v1h-26zM11 442h2v1h-2zM84 442h2v1h-2zM116 442h2v1h-2zM131 442h5v1h-5zM409 442h4v1h-4zM418 442h7v1h-7zM433 442h2v1h-2zM904 442h3v1h-3zM913 442h2v1h-2zM945 442h4v1h-4zM628 458h12v1h-12zM652 458h2v1h-2zM658 458h15v1h-15zM689 458h2v1h-2zM645 461h3v1h-3zM698 461h13v1h-13zM264 452h4v1h-4zM275 452h4v1h-4zM338 452h9v1h-9zM497 452h2v1h-2zM515 452h2v1h-2zM520 452h4v1h-4zM595 452h2v1h-2zM755 452h7v1h-7zM800 452h3v1h-3zM48 446h3v1h-3zM160 446h4v1h-4zM171 446h5v1h-5zM205 446h14v1h-14zM232 446h2v1h-2zM291 446h7v1h-7zM388 446h2v1h-2zM469 446h11v1h-11zM550 446h5v1h-5zM560 446h4v1h-4zM821 446h3v1h-3zM837 446h3v1h-3zM853 446h3v1h-3zM886 446h3v1h-3zM25 440h4v1h-4zM34 440h5v1h-5zM91 440h8v1h-8zM429 440h2v1h-2zM909 440h2v1h-2zM955 440h6v1h-6zM970 440h3v1h-3zM238 450h5v1h-5zM248 450h4v1h-4zM281 450h2v1h-2zM328 450h4v1h-4zM361 450h4v1h-4zM368 450h4v1h-4zM377 450h4v1h-4zM492 450h3v1h-3zM545 450h2v1h-2zM591 450h2v1h-2zM805 450h6v1h-6zM874 450h6v1h-6zM501 454h11v1h-11zM610 454h6v1h-6zM747 454h2v1h-2zM770 454h16v1h-16zM793 454h4v1h-4zM181 449h4v1h-4zM196 449h4v1h-4zM236 449h2v1h-2zM243 449h5v1h-5zM322 449h6v1h-6zM365 449h3v1h-3zM381 449h3v1h-3zM462 449h2v1h-2zM488 449h4v1h-4zM578 449h13v1h-13zM811 449h5v1h-5zM845 449h3v1h-3zM866 449h8v1h-8zM880 449h2v1h-2zM640 459h2v1h-2zM650 459h2v1h-2zM691 459h2v1h-2zM713 459h2v1h-2zM8 443h3v1h-3zM82 443h2v1h-2zM118 443h13v1h-13zM136 443h4v1h-4zM403 443h6v1h-6zM435 443h2v1h-2zM899 443h5v1h-5zM915 443h2v1h-2zM931 443h14v1h-14zM29 439h5v1h-5zM99 439h8v1h-8zM111 439h2v1h-2zM961 439h4v1h-4zM968 439h2v1h-2zM642 460h3v1h-3zM648 460h2v1h-2zM693 460h5v1h-5zM711 460h2v1h-2zM616 455h4v1h-4zM744 455h3v1h-3zM786 455h7v1h-7zM107 438h4v1h-4zM965 438h3v1h-3zM544 451h1v1h-1zM234 447h1v1h-1zM549 447h1v1h-1zM40 442h1v1h-1zM231 445h1v1h-1zM235 448h1v1h-1zM548 448h1v1h-1zM113 440h1v1h-1zM547 449h1v1h-1zM543 452h1v1h-1zM39 441h1v1h-1zM457 446h1v1h-1zM45 446h1v1h-1zM41 443h1v1h-1zM283 449h1v1h-1zM44 445h1v1h-1zM715 458h1v1h-1z" fill="#1e90ff" shape-rendering="crispEdges"/>
<rect x="1232" y="420" width="1" height="1" fill="#000000"/>
<g shape-rendering="crispEdges">
<rect x="6" y="490" width="2" height="1" fill="#c0c0c0"/>
<rect x="13" y="487" width="3" height="4" fill="#c0c0c0"/>
<rect x="21" y="487" width="3" height="4" fill="#c0c0c0"/>
<rect x="29" y="487" width="3" height="4" fill="#c0c0c0"/>
<rect x="37" y="487" width="3" height="4" fill="#c0c0c0"/>
<rect x="45" y="487" width="3" height="4" fill="#c0c0c0"/>
<rect x="53" y="487" width="3" height="4" fill="#c0c0c0"/>
<rect x="61" y="488" width="3" height="3" fill="#c0c0c0"/>
<rect x="69" y="488" width="3" height="3" fill="#c0c0c0"/>
<rect x="77" y="488" width="3" height="3" fill="#c0c0c0"/>
<rect x="85" y="486" width="3" height="5" fill="#c0c0c0"/>
<rect x="93" y="485" width="3" height="6" fill="#c0c0c0"/>
<rect x="101" y="482" width="3" height="9" fill="#c0c0c0"/>
<rect x="109" y="482" width="3" height="9" fill="#c0c0c0"/>
<rect x="117" y="479" width="3" height="12" fill="#c0c0c0"/>
<rect x="125" y="480" width="3" height="11" fill="#c0c0c0"/>
<rect x="133" y="481" width="3" height="10" fill="#c0c0c0"/>
<rect x="141" y="482" width="3" height="9" fill="#c0c0c0"/>
<rect x="149" y="483" width="3" height="8" fill="#c0c0c0"/>
<rect x="157" y="484" width="3" height="7" fill="#c0c0c0"/>
<rect x="165" y="487" width="3" height="4" fill="#c0c0c0"/>
<rect x="173" y="488" width="3" height="3" fill="#c0c0c0"/>
<rect x="181" y="491" width="3" height="1" fill="#c0c0c0"/>
<rect x="189" y="491" width="3" height="2" fill="#c0c0c0"/>
<rect x="197" y="491" width="3" height="5" fill="#c0c0c0"/>
<rect x="205" y="491" width="3" height="5" fill="#c0c0c0"/>
<rect x="213" y="491" width="3" height="5" fill="#c0c0c0"/>
<rect x="221" y="491" width="3" height="5" fill="#c0c0c0"/>
<rect x="229" y="491" width="3" height="4" fill="#c0c0c0"/>
<rect x="237" y="491" width="3" height="8" fill="#c0c0c0"/>
<rect x="245" y="491" width="3" height="9" fill="#c0c0c0"/>
<rect x="253" y="491" width="3" height="13" fill="#c0c0c0"/>
<rect x="261" y="491" width="3" height="15" fill="#c0c0c0"/>
<rect x="269" y="491" width="3" height="18" fill="#c0c0c0"/>
<rect x="277" y="491" width="3" height="20" fill="#c0c0c0"/>
<rect x="285" y="491" width="3" height="19" fill="#c0c0c0"/>
<rect x="293" y="491" width="3" height="17" fill="#c0c0c0"/>
<rect x="301" y="491" width="3" height="16" fill="#c0c0c0"/>
<rect x="309" y="491" width="3" height="16" fill="#c0c0c0"/>
<rect x="317" y="491" width="3" height="16" fill="#c0c0c0"/>
<rect x="325" y="491" width="3" height="15" fill="#c0c0c0"/>
<rect x="333" y="491" width="3" height="17" fill="#c0c0c0"/>
<rect x="341" y="491" width="3" height="18" fill="#c0c0c0"/>
<rect x="349" y="491" width="3" height="19" fill="#c0c0c0"/>
<rect x="357" y="491" width="3" height="20" fill="#c0c0c0"/>
<rect x="365" y="491" width="3" height="19" fill="#c0c0c0"/>
<rect x="373" y="491" width="3" height="20" fill="#c0c0c0"/>
<rect x="381" y="491" width="3" height="19" fill="#c0c0c0"/>
<rect x="389" y="491" width="3" height="16" fill="#c0c0c0"/>
<rect x="397" y="491" width="3" height="14" fill="#c0c0c0"/>
<rect x="405" y="491" width="3" height="11" fill="#c0c0c0"/>
<rect x="413" y="491" width="3" height="7" fill="#c0c0c0"/>
<rect x="421" y="491" width="3" height="5" fill="#c0c0c0"/>
<rect x="429" y="491" width="3" height="2" fill="#c0c0c0"/>
<rect x="437" y="491" width="3" height="1" fill="#c0c0c0"/>
<rect x="445" y="491" width="3" height="1" fill="#c0c0c0"/>
<rect x="453" y="491" width="3" height="1" fill="#c0c0c0"/>
<rect x="461" y="491" width="3" height="5" fill="#c0c0c0"/>
<rect x="469" y="491" width="3" height="4" fill="#c0c0c0"/>
<rect x="477" y="491" width="3" height="4" fill="#c0c0c0"/>
<rect x="485" y="491" width="3" height="6" fill="#c0c0c0"/>
<rect x="493" y="491" width="3" height="8" fill="#c0c0c0"/>
<rect x="501" y="491" width="3" height="13" fill="#c0c0c0"/>
<rect x="509" y="491" width="3" height="17" fill="#c0c0c0"/>
<rect x="517" y="491" width="3" height="19" fill="#c0c0c0"/>
<rect x="525" y="491" width="3" height="21" fill="#c0c0c0"/>
<rect x="533" y="491" width="3" height="23" fill="#c0c0c0"/>
<rect x="541" y="491" width="3" height="25" fill="#c0c0c0"/>
<rect x="549" y="491" width="3" height="23" fill="#c0c0c0"/>
<rect x="557" y="491" width="3" height="19" fill="#c0c0c0"/>
<rect x="565" y="491" width="3" height="19" fill="#c0c0c0"/>
<rect x="573" y="491" width="3" height="18" fill="#c0c0c0"/>
<rect x="581" y="491" width="3" height="18" fill="#c0c0c0"/>
<rect x="589" y="491" width="3" height="18" fill="#c0c0c0"/>
<rect x="597" y="491" width="3" height="20" fill="#c0c0c0"/>
<rect x="605" y="491" width="3" height="24" fill="#c0c0c0"/>
<rect x="613" y="491" width="3" height="27" fill="#c0c0c0"/>
<rect x="621" y="491" width="3" height="31" fill="#c0c0c0"/>
<rect x="629" y="491" width="3" height="37" fill="#c0c0c0"/>
<rect x="637" y="491" width="3" height="41" fill="#c0c0c0"/>
<rect x="645" y="491" width="3" height="49" fill="#c0c0c0"/>
<rect x="653" y="491" width="3" height="52" fill="#c0c0c0"/>
<rect x="661" y="491" width="3" height="56" fill="#c0c0c0"/>
<rect x="669" y="491" width="3" height="58" fill="#c0c0c0"/>
<rect x="677" y="491" width="3" height="59" fill="#c0c0c0"/>
<rect x="685" y="491" width="3" height="59" fill="#c0c0c0"/>
<rect x="693" y="491" width="3" height="66" fill="#c0c0c0"/>
<rect x="701" y="491" width="3" height="73" fill="#c0c0c0"/>
<rect x="709" y="491" width="3" height="77" fill="#c0c0c0"/>
<rect x="717" y="491" width="3" height="77" fill="#c0c0c0"/>
<rect x="725" y="491" width="3" height="75" fill="#c0c0c0"/>
<rect x="733" y="491" width="3" height="73" fill="#c0c0c0"/>
<rect x="741" y="491" width="3" height="71" fill="#c0c0c0"/>
<rect x="749" y="491" width="3" height="67" fill="#c0c0c0"/>
<rect x="757" y="491" width="3" height="62" fill="#c0c0c0"/>
<rect x="765" y="491" width="3" height="59" fill="#c0c0c0"/>
<rect x="773" y="491" width="3" height="57" fill="#c0c0c0"/>
<rect x="781" y="491" width="3" height="55" fill="#c0c0c0"/>
<rect x="789" y="491" width="3" height="54" fill="#c0c0c0"/>
<rect x="797" y="491" width="3" height="52" fill="#c0c0c0"/>
<rect x="805" y="491" width="3" height="48" fill="#c0c0c0"/>
<rect x="813" y="491" width="3" height="43" fill="#c0c0c0"/>
<rect x="821" y="491" width="3" height="37" fill="#c0c0c0"/>
<rect x="829" y="491" width="3" height="34" fill="#c0c0c0"/>
<rect x="837" y="491" width="3" height="30" fill="#c0c0c0"/>
<rect x="845" y="491" width="3" height="29" fill="#c0c0c0"/>
<rect x="853" y="491" width="3" height="26" fill="#c0c0c0"/>
<rect x="861" y="491" width="3" height="25" fill="#c0c0c0"/>
<rect x="869" y="491" width="3" height="25" fill="#c0c0c0"/>
<rect x="877" y="491" width="3" height="25" fill="#c0c0c0"/>
<rect x="885" y="491" width="3" height="22" fill="#c0c0c0"/>
<rect x="893" y="491" width="3" height="18" fill="#c0c0c0"/>
<rect x="901" y="491" width="3" height="14" fill="#c0c0c0"/>
<rect x="909" y="491" width="3" height="8" fill="#c0c0c0"/>
<rect x="917" y="491" width="3" height="6" fill="#c0c0c0"/>
<rect x="925" y="491" width="3" height="5" fill="#c0c0c0"/>
<rect x="933" y="491" width="3" height="2" fill="#c0c0c0"/>
<rect x="941" y="491" width="3" height="1" fill="#c0c0c0"/>
<rect x="949" y="488" width="3" height="3" fill="#c0c0c0"/>
<rect x="957" y="485" width="3" height="6" fill="#c0c0c0"/>
<rect x="965" y="480" width="3" height="11" fill="#c0c0c0"/>
<rect x="973" y="479" width="3" height="12" fill="#c0c0c0"/>
</g>
<path d="M709 551h3v1h-3zM797 551h3v1h-3zM266 499h6v1h-6zM443 499h6v1h-6zM520 499h2v1h-2zM947 499h2v1h-2zM306 506h16v1h-16zM411 506h8v1h-8zM544 506h4v1h-4zM925 506h4v1h-4zM714 553h3v1h-3zM792 553h3v1h-3zM292 504h6v1h-6zM424 504h3v1h-3zM536 504h4v1h-4zM933 504h3v1h-3zM35 486h24v1h-24zM192 486h4v1h-4zM705 549h2v1h-2zM803 549h2v1h-2zM697 545h2v1h-2zM813 545h3v1h-3zM242 495h8v1h-8zM461 495h6v1h-6zM498 495h6v1h-6zM957 495h3v1h-3zM155 481h15v1h-15zM693 543h2v1h-2zM819 543h2v1h-2zM232 493h4v1h-4zM475 493h15v1h-15zM963 493h2v1h-2zM115 484h24v1h-24zM180 484h6v1h-6zM6 487h29v1h-29zM196 487h6v1h-6zM288 503h4v1h-4zM427 503h2v1h-2zM532 503h4v1h-4zM936 503h3v1h-3zM139 483h8v1h-8zM176 483h4v1h-4zM675 535h2v1h-2zM840 535h2v1h-2zM667 531h2v1h-2zM848 531h3v1h-3zM298 505h8v1h-8zM419 505h5v1h-5zM540 505h4v1h-4zM929 505h4v1h-4zM738 560h8v1h-8zM763 560h8v1h-8zM378 508h25v1h-25zM552 508h4v1h-4zM917 508h4v1h-4zM618 512h6v1h-6zM907 512h2v1h-2zM578 511h40v1h-40zM909 511h3v1h-3zM645 520h3v1h-3zM877 520h4v1h-4zM639 517h2v1h-2zM889 517h4v1h-4zM322 507h56v1h-56zM403 507h8v1h-8zM548 507h4v1h-4zM921 507h4v1h-4zM272 500h4v1h-4zM437 500h6v1h-6zM522 500h3v1h-3zM944 500h3v1h-3zM236 494h6v1h-6zM467 494h8v1h-8zM490 494h8v1h-8zM960 494h3v1h-3zM250 496h6v1h-6zM457 496h4v1h-4zM504 496h4v1h-4zM955 496h2v1h-2zM212 490h6v1h-6zM971 490h2v1h-2zM562 510h16v1h-16zM912 510h3v1h-3zM701 547h2v1h-2zM808 547h3v1h-3zM722 556h3v1h-3zM780 556h2v1h-2zM628 514h4v1h-4zM901 514h3v1h-3zM218 491h8v1h-8zM968 491h3v1h-3zM660 527h2v1h-2zM859 527h2v1h-2zM653 523h2v1h-2zM868 523h2v1h-2zM685 539h2v1h-2zM829 539h3v1h-3zM256 497h4v1h-4zM453 497h4v1h-4zM508 497h6v1h-6zM952 497h3v1h-3zM276 501h6v1h-6zM433 501h4v1h-4zM525 501h3v1h-3zM941 501h3v1h-3zM658 526h2v1h-2zM861 526h3v1h-3zM59 485h56v1h-56zM186 485h6v1h-6zM725 557h3v1h-3zM778 557h2v1h-2zM282 502h6v1h-6zM429 502h4v1h-4zM528 502h4v1h-4zM939 502h2v1h-2zM226 492h6v1h-6zM965 492h3v1h-3zM728 558h4v1h-4zM776 558h2v1h-2zM864 525h2v1h-2zM147 482h8v1h-8zM170 482h6v1h-6zM648 521h2v1h-2zM873 521h4v1h-4zM720 555h2v1h-2zM782 555h5v1h-5zM717 554h3v1h-3zM787 554h5v1h-5zM650 522h3v1h-3zM870 522h3v1h-3zM746 561h17v1h-17zM641 518h2v1h-2zM885 518h4v1h-4zM665 530h2v1h-2zM851 530h2v1h-2zM260 498h6v1h-6zM449 498h4v1h-4zM514 498h6v1h-6zM949 498h3v1h-3zM632 515h4v1h-4zM897 515h4v1h-4zM636 516h3v1h-3zM893 516h4v1h-4zM856 528h3v1h-3zM732 559h6v1h-6zM771 559h5v1h-5zM624 513h4v1h-4zM904 513h3v1h-3zM202 488h6v1h-6zM707 550h2v1h-2zM800 550h3v1h-3zM655 524h2v1h-2zM866 524h2v1h-2zM673 534h2v1h-2zM842 534h2v1h-2zM699 546h2v1h-2zM811 546h2v1h-2zM677 536h3v1h-3zM837 536h3v1h-3zM556 509h6v1h-6zM915 509h2v1h-2zM703 548h2v1h-2zM805 548h3v1h-3zM695 544h2v1h-2zM816 544h3v1h-3zM663 529h2v1h-2zM853 529h3v1h-3zM687 540h2v1h-2zM827 540h2v1h-2zM712 552h2v1h-2zM795 552h2v1h-2zM682 538h3v1h-3zM832 538h3v1h-3zM208 489h4v1h-4zM973 489h2v1h-2zM671 533h2v1h-2zM844 533h2v1h-2zM691 542h2v1h-2zM821 542h3v1h-3zM643 519h2v1h-2zM881 519h4v1h-4zM669 532h2v1h-2zM846 532h2v1h-2zM689 541h2v1h-2zM824 541h3v1h-3zM680 537h2v1h-2zM835 537h2v1h-2zM657 525h1v1h-1zM662 528h1v1h-1z" fill="#ff0000" shape-rendering="crispEdges"/>
<text x="10.3" y="485" font-size="9.6" fill="#000" textLength="147" lengthAdjust="spacingAndGlyphs" stroke="#000" stroke-width="0.2">MACD(12,26,9) 0.004176 0.000471</text>
<text x="1235" y="482.7" font-size="9.6" fill="#000" textLength="38" lengthAdjust="spacingAndGlyphs" stroke="#000" stroke-width="0.2">0.006024</text>
<text x="1235" y="495" font-size="9.6" fill="#000" textLength="18" lengthAdjust="spacingAndGlyphs" stroke="#000" stroke-width="0.2">0.00</text>
<text x="1235" y="569.5" font-size="9.6" fill="#000" textLength="40.3" lengthAdjust="spacingAndGlyphs" stroke="#000" stroke-width="0.2">-0.028549</text>
<rect x="1232" y="474" width="1" height="1" fill="#000000"/>
<rect x="1232" y="491" width="1" height="1" fill="#000000"/>
<rect x="1232" y="571" width="1" height="1" fill="#000000"/>
<rect x="6" y="573" width="1" height="3" fill="#000000"/>
<text x="5.3" y="585" font-size="9.6" fill="#000" textLength="51.8" lengthAdjust="spacingAndGlyphs" stroke="#000" stroke-width="0.2">19 Dec 2018</text>
<rect x="70" y="573" width="1" height="3" fill="#000000"/>
<text x="69.3" y="585" font-size="9.6" fill="#000" textLength="54.3" lengthAdjust="spacingAndGlyphs" stroke="#000" stroke-width="0.2">21 Dec 04:00</text>
<rect x="134" y="573" width="1" height="3" fill="#000000"/>
<text x="133.3" y="585" font-size="9.6" fill="#000" textLength="54.3" lengthAdjust="spacingAndGlyphs" stroke="#000" stroke-width="0.2">24 Dec 16:00</text>
<rect x="198" y="573" width="1" height="3" fill="#000000"/>
<text x="197.3" y="585" font-size="9.6" fill="#000" textLength="54.3" lengthAdjust="spacingAndGlyphs" stroke="#000" stroke-width="0.2">26 Dec 20:00</text>
<rect x="262" y="573" width="1" height="3" fill="#000000"/>
<text x="261.3" y="585" font-size="9.6" fill="#000" textLength="54.3" lengthAdjust="spacingAndGlyphs" stroke="#000" stroke-width="0.2">28 Dec 04:00</text>
<rect x="326" y="573" width="1" height="3" fill="#000000"/>
<text x="325.3" y="585" font-size="9.6" fill="#000" textLength="54.3" lengthAdjust="spacingAndGlyphs" stroke="#000" stroke-width="0.2">31 Dec 16:00</text>
<rect x="390" y="573" width="1" height="3" fill="#000000"/>
<text x="389.3" y="585" font-size="9.6" fill="#000" textLength="47.7" lengthAdjust="spacingAndGlyphs" stroke="#000" stroke-width="0.2">2 Jan 20:00</text>
<rect x="454" y="573" width="1" height="3" fill="#000000"/>
<text x="453.3" y="585" font-size="9.6" fill="#000" textLength="47.7" lengthAdjust="spacingAndGlyphs" stroke="#000" stroke-width="0.2">4 Jan 04:00</text>
<rect x="518" y="573" width="1" height="3" fill="#000000"/>
<text x="517.3" y="585" font-size="9.6" fill="#000" textLength="47.7" lengthAdjust="spacingAndGlyphs" stroke="#000" stroke-width="0.2">7 Jan 16:00</text>
<rect x="582" y="573" width="1" height="3" fill="#000000"/>
<text x="581.3" y="585" font-size="9.6" fill="#000" textLength="47.7" lengthAdjust="spacingAndGlyphs" stroke="#000" stroke-width="0.2">9 Jan 00:00</text>
<rect x="646" y="573" width="1" height="3" fill="#000000"/>
<text x="645.3" y="585" font-size="9.6" fill="#000" textLength="52.8" lengthAdjust="spacingAndGlyphs" stroke="#000" stroke-width="0.2">10 Jan 08:00</text>
<rect x="710" y="573" width="1" height="3" fill="#000000"/>
<text x="709.3" y="585" font-size="9.6" fill="#000" textLength="52.1" lengthAdjust="spacingAndGlyphs" stroke="#000" stroke-width="0.2">11 Jan 16:00</text>
<rect x="774" y="573" width="1" height="3" fill="#000000"/>
<text x="773.3" y="585" font-size="9.6" fill="#000" textLength="52.8" lengthAdjust="spacingAndGlyphs" stroke="#000" stroke-width="0.2">15 Jan 00:00</text>
<rect x="838" y="573" width="1" height="3" fill="#000000"/>
<text x="837.3" y="585" font-size="9.6" fill="#000" textLength="52.8" lengthAdjust="spacingAndGlyphs" stroke="#000" stroke-width="0.2">16 Jan 08:00</text>
<rect x="902" y="573" width="1" height="3" fill="#000000"/>
<text x="901.3" y="585" font-size="9.6" fill="#000" textLength="52.8" lengthAdjust="spacingAndGlyphs" stroke="#000" stroke-width="0.2">17 Jan 16:00</text>
<rect x="966" y="573" width="1" height="3" fill="#000000"/>
<text x="965.3" y="585" font-size="9.6" fill="#000" textLength="52.8" lengthAdjust="spacingAndGlyphs" stroke="#000" stroke-width="0.2">19 Jan 00:00</text>
<rect x="0" y="595" width="1278" height="1" fill="#000000"/>
<rect x="0" y="596" width="1278" height="19" fill="#f0f0f0"/>
<rect x="1" y="596" width="2" height="19" fill="#808080"/>
<rect x="0" y="614" width="3" height="1" fill="#808080"/>
<rect x="0" y="615" width="1278" height="6" fill="#f4f4f4"/>
<rect x="0" y="619" width="1276" height="1" fill="#a8a8a8"/>
<text x="19.5" y="610" font-size="12.5" fill="#6e6e6e" textLength="79.2" lengthAdjust="spacingAndGlyphs">EURUSD,Daily</text>
<text x="121.7" y="610" font-size="12.5" fill="#6e6e6e" textLength="81.8" lengthAdjust="spacingAndGlyphs">AUDUSD,Daily</text>
<text x="225.7" y="610" font-size="12.5" fill="#6e6e6e" textLength="78.3" lengthAdjust="spacingAndGlyphs">USDCHF,Daily</text>
<text x="326" y="610" font-size="12.5" fill="#6e6e6e" textLength="81" lengthAdjust="spacingAndGlyphs">USDCAD,Daily</text>
<text x="521.7" y="610" font-size="12.5" fill="#6e6e6e" textLength="62.3" lengthAdjust="spacingAndGlyphs">USDJPY,H4</text>
<text x="606" y="610" font-size="12.5" fill="#6e6e6e" textLength="69" lengthAdjust="spacingAndGlyphs">XAUUSD,H4</text>
<text x="699" y="610" font-size="12.5" fill="#6e6e6e" textLength="80" lengthAdjust="spacingAndGlyphs">GBPUSD,Daily</text>
<text x="803.3" y="610" font-size="12.5" fill="#6e6e6e" textLength="63.4" lengthAdjust="spacingAndGlyphs">SP500,M15</text>
<text x="891" y="610" font-size="12.5" fill="#6e6e6e" textLength="80" lengthAdjust="spacingAndGlyphs">GBPUSD,Daily</text>
<text x="993.3" y="610" font-size="12.5" fill="#6e6e6e" textLength="46.0" lengthAdjust="spacingAndGlyphs">DJ30,H4</text>
<text x="1061" y="610" font-size="12.5" fill="#6e6e6e" textLength="70" lengthAdjust="spacingAndGlyphs">TECH100,H1</text>
<text x="1155.5" y="610" font-size="12.5" fill="#6e6e6e" textLength="50.5" lengthAdjust="spacingAndGlyphs">UKOil,H1</text>
<rect x="111" y="598" width="1" height="14" fill="#808080"/>
<rect x="216" y="598" width="1" height="14" fill="#808080"/>
<rect x="315" y="598" width="1" height="14" fill="#808080"/>
<rect x="595" y="598" width="1" height="14" fill="#808080"/>
<rect x="687" y="598" width="1" height="14" fill="#808080"/>
<rect x="790" y="598" width="1" height="14" fill="#808080"/>
<rect x="879" y="598" width="1" height="14" fill="#808080"/>
<rect x="983" y="598" width="1" height="14" fill="#808080"/>
<rect x="1050" y="598" width="1" height="14" fill="#808080"/>
<rect x="1143" y="598" width="1" height="14" fill="#808080"/>
<rect x="1219" y="598" width="1" height="14" fill="#808080"/>
<rect x="419" y="595" width="93" height="19" fill="#ffffff"/>
<rect x="419" y="596" width="1" height="18" fill="#000000"/>
<rect x="511" y="596" width="1" height="18" fill="#000000"/>
<rect x="419" y="613" width="93" height="1" fill="#000000"/>
<text x="429.3" y="610" font-size="12.5" fill="#000" textLength="70.7" lengthAdjust="spacingAndGlyphs">USDCNH,H4</text>
<defs><linearGradient id="fade" x1="0" x2="1"><stop offset="0" stop-color="#f0f0f0" stop-opacity="0"/><stop offset="1" stop-color="#f0f0f0"/></linearGradient></defs>
<text x="1231" y="610" font-size="12.5" fill="#6e6e6e">U</text>
<rect x="1236" y="597" width="8" height="16" fill="url(#fade)"/>
<rect x="1242" y="597" width="34" height="16" fill="#f0f0f0"/>
<path d="M1250 600 L1250 608 L1246.5 604 Z" fill="#a0a0a0"/>
<path d="M1266 600 L1266 608 L1269.5 604 Z" fill="#000"/>
</svg>
</body></html>
